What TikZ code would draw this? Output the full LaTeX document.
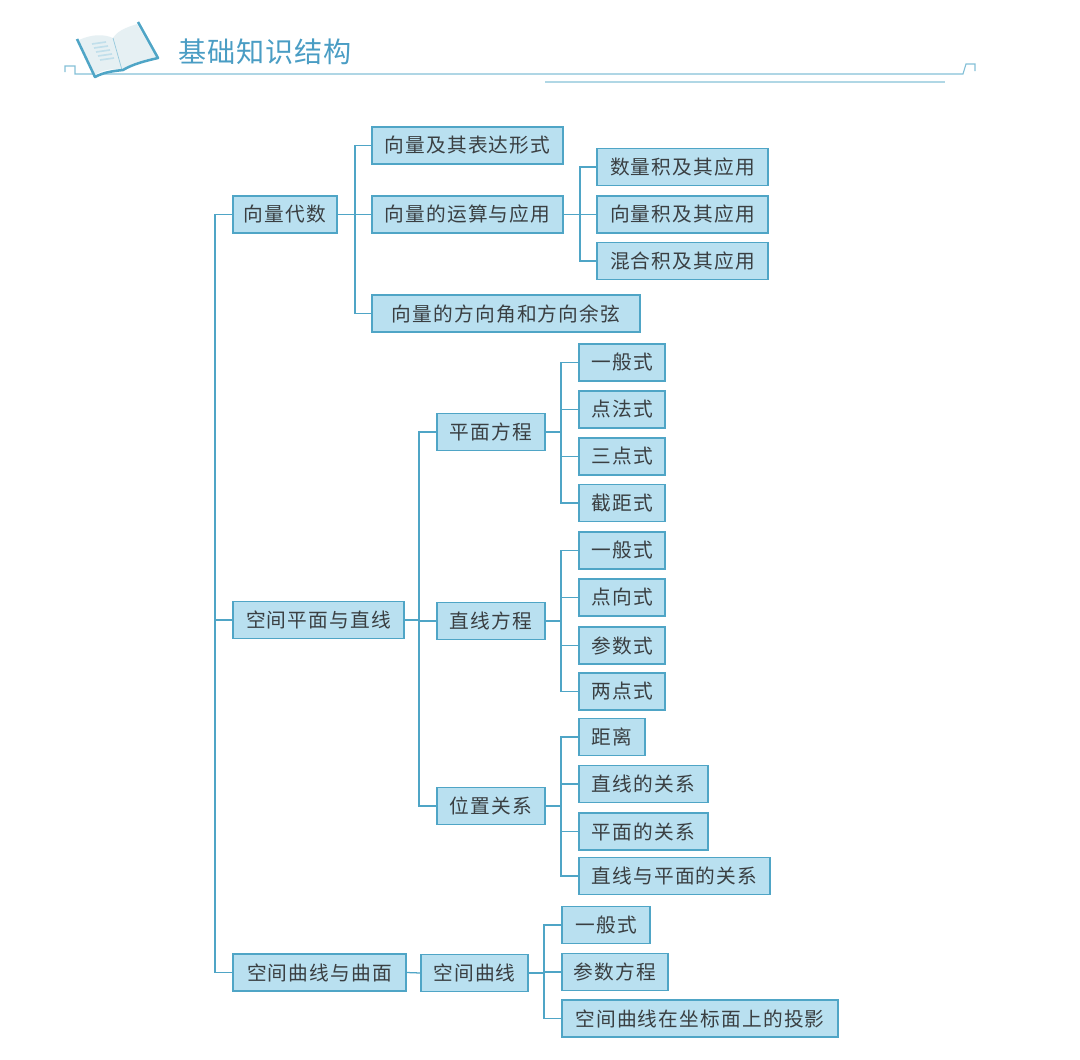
\documentclass[tikz,border=0pt]{standalone}
\usepackage{fontspec}
\setmainfont{Noto Sans CJK SC}[LetterSpace=6]
\newfontfamily\titlefont{Noto Sans CJK SC}[LetterSpace=3]
\definecolor{boxfill}{HTML}{B9E0F0}
\definecolor{boxline}{HTML}{4FA5C6}
\definecolor{inkgray}{HTML}{3A3F42}
\definecolor{titleblue}{HTML}{4A9DC4}
\definecolor{pagegray}{HTML}{E6F0F3}
\tikzset{
  kbox/.style={draw=boxline,fill=boxfill,line width=0.9pt,text=inkgray,inner sep=0pt,
    minimum height=0.92cm,font=\fontsize{14}{16}\selectfont},
  link/.style={draw=boxline,line width=0.9pt},
  rule/.style={draw=boxline!70,line width=0.8pt}
}
\begin{document}
\begin{tikzpicture}[x=0.025cm,y=-0.025cm]
  \useasboundingbox (0,0) rectangle (1080,1060);

  % header
  \draw[rule] (65,72) -- (65,66) -- (75,66) -- (75,74) -- (963,74) -- (966,64) -- (975,64) -- (975,71);
  \draw[rule,draw=boxline!45] (545,82) -- (945,82);
  \fill[white] (77,39) -- (95,77) -- (158,58) -- (138,22) -- cycle;
  \fill[pagegray] (79,40) .. controls (92,34) and (104,34) .. (113,38) .. controls (118,30) and (128,27) .. (137,24) -- (156,57) .. controls (143,60) and (130,63) .. (122,70) .. controls (112,68) and (102,70) .. (95,75) -- cycle;
  \draw[boxline!60,line width=0.5pt] (113,38) -- (122,70);
  \foreach \row in {0,1,2,3,4} \draw[boxline!35,line width=1.2pt] (92+\row*2,44+\row*4) -- (106+\row*2,42+\row*4);
  \draw[boxline,line width=1.8pt,line join=round] (77,39) -- (95,77) .. controls (104,72) and (114,71) .. (123,70) .. controls (133,64) and (145,61) .. (158,58) -- (138,22);
  \node[text=titleblue,font=\titlefont\fontsize{20}{22}\selectfont,anchor=west] (title) at (174,52) {基础知识结构};

  % first level
  \node[kbox,minimum width=2.6cm] (alg) at (285,214.5) {向量代数};
  \node[kbox,minimum width=4.275cm] (geo) at (318.5,620) {空间平面与直线};
  \node[kbox,minimum width=4.325cm] (surf) at (319.5,972.5) {空间曲线与曲面};

  % vector algebra
  \node[kbox,minimum width=4.775cm] (form) at (467.5,145.5) {向量及其表达形式};
  \node[kbox,minimum width=4.775cm] (oper) at (467.5,214.5) {向量的运算与应用};
  \node[kbox,minimum width=6.7cm] (cosine) at (506,313.5) {向量的方向角和方向余弦};
  \node[kbox,minimum width=4.275cm] (dot) at (682.5,167) {数量积及其应用};
  \node[kbox,minimum width=4.275cm] (cross) at (682.5,214.5) {向量积及其应用};
  \node[kbox,minimum width=4.275cm] (mixed) at (682.5,261) {混合积及其应用};

  % planes and lines
  \node[kbox,minimum width=2.7cm] (plane) at (491,432) {平面方程};
  \node[kbox,minimum width=2.7cm] (line) at (491,621) {直线方程};
  \node[kbox,minimum width=2.7cm] (rel) at (491,806) {位置关系};

  \node[kbox,minimum width=2.15cm] (pa) at (622,362.5) {一般式};
  \node[kbox,minimum width=2.15cm] (pb) at (622,409.5) {点法式};
  \node[kbox,minimum width=2.15cm] (pc) at (622,456.5) {三点式};
  \node[kbox,minimum width=2.15cm] (pd) at (622,503) {截距式};

  \node[kbox,minimum width=2.15cm] (la) at (622,550.5) {一般式};
  \node[kbox,minimum width=2.15cm] (lb) at (622,597.5) {点向式};
  \node[kbox,minimum width=2.15cm] (lc) at (622,645.5) {参数式};
  \node[kbox,minimum width=2.15cm] (ld) at (622,691.5) {两点式};

  \node[kbox,minimum width=1.65cm] (ra) at (612,737) {距离};
  \node[kbox,minimum width=3.225cm] (rb) at (643.5,784) {直线的关系};
  \node[kbox,minimum width=3.225cm] (rc) at (643.5,831.5) {平面的关系};
  \node[kbox,minimum width=4.775cm] (rd) at (674.5,876) {直线与平面的关系};

  % space curves
  \node[kbox,minimum width=2.675cm] (curve) at (474.5,973) {空间曲线};
  \node[kbox,minimum width=2.2cm] (ca) at (606,925) {一般式};
  \node[kbox,minimum width=2.65cm] (cb) at (615,972) {参数方程};
  \node[kbox,minimum width=6.9cm] (cc) at (700,1018.5) {空间曲线在坐标面上的投影};

  % connectors
  \coordinate (busmain) at (215,620);
  \coordinate (busalg) at (355,214.5);
  \coordinate (busoper) at (580,214.5);
  \coordinate (busgeo) at (419,620);
  \coordinate (busplane) at (561,432);
  \coordinate (busline) at (561,621);
  \coordinate (busrel) at (561,806);
  \coordinate (buscurve) at (544,973);

  \foreach \kid in {alg,geo,surf} \draw[link] (busmain) |- (\kid.west);
  \draw[link] (alg.east) -- (busalg);
  \foreach \kid in {form,oper,cosine} \draw[link] (busalg) |- (\kid.west);
  \draw[link] (oper.east) -- (busoper);
  \foreach \kid in {dot,cross,mixed} \draw[link] (busoper) |- (\kid.west);
  \draw[link] (geo.east) -- (busgeo);
  \foreach \kid in {plane,line,rel} \draw[link] (busgeo) |- (\kid.west);
  \draw[link] (plane.east) -- (busplane);
  \foreach \kid in {pa,pb,pc,pd} \draw[link] (busplane) |- (\kid.west);
  \draw[link] (line.east) -- (busline);
  \foreach \kid in {la,lb,lc,ld} \draw[link] (busline) |- (\kid.west);
  \draw[link] (rel.east) -- (busrel);
  \foreach \kid in {ra,rb,rc,rd} \draw[link] (busrel) |- (\kid.west);
  \draw[link] (surf.east) -- (curve.west);
  \draw[link] (curve.east) -- (buscurve);
  \foreach \kid in {ca,cb,cc} \draw[link] (buscurve) |- (\kid.west);
\end{tikzpicture}
\end{document}
